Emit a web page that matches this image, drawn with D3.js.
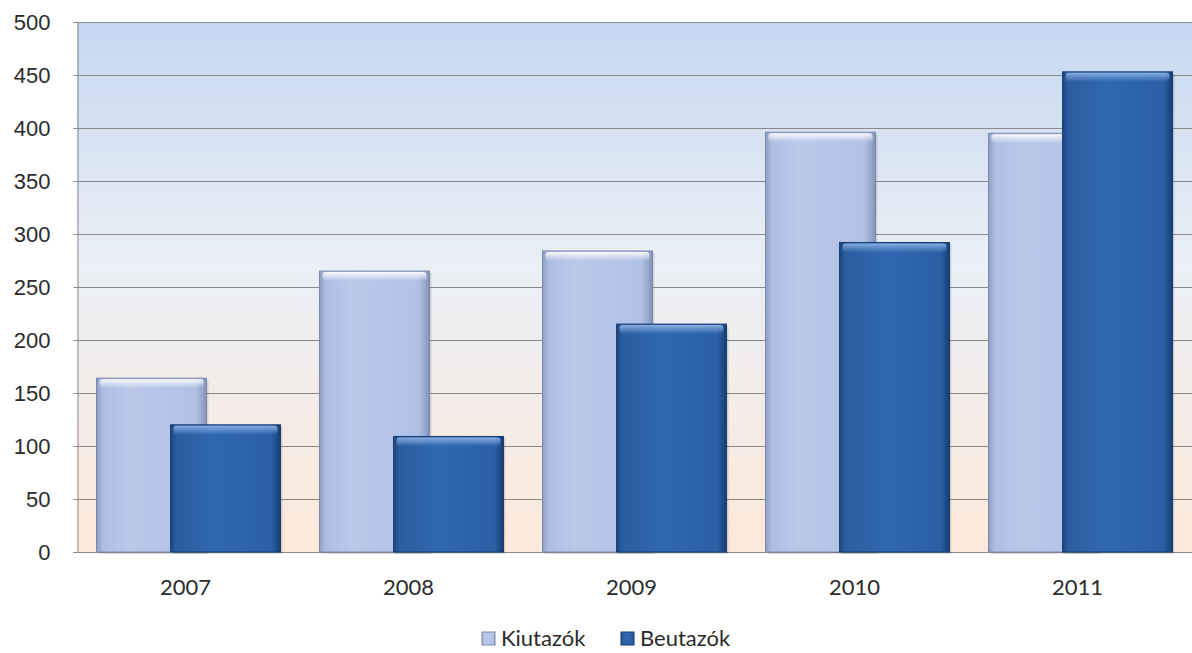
<!DOCTYPE html>
<html><head><meta charset="utf-8">
<script src="https://cdn.jsdelivr.net/npm/d3@7"></script>
<style>
html,body{margin:0;padding:0;background:#fff;}
svg{display:block;font-family:Lato,"Open Sans",sans-serif;}
</style></head>
<body>
<svg id="chart" width="1192" height="653"></svg>
<script>
const years = ["2007","2008","2009","2010","2011"];
const series = ["Kiutazók","Beutazók"];
const kiutazok = [164, 265, 284, 396, 395];
const beutazok = [120, 109, 215, 292, 453];
const yTicks = [0,50,100,150,200,250,300,350,400,450,500];

(function(){
const svg = d3.select("#chart");
const mL = 77, mR = 1192, mT = 22, mB = 552;

const x = d3.scaleBand().domain(years).range([mL, mR]).paddingInner(0).paddingOuter(0);
const y = d3.scaleLinear().domain([0,500]).range([mB, mT]);
const barW = x.bandwidth() * 0.493;
const groupW = x.bandwidth() * 0.825;
const xs = d3.scalePoint().domain(series).range([0, groupW - barW]);
const groupOff = (x.bandwidth() - groupW) / 2;

const defs = svg.append("defs");
const bg = defs.append("linearGradient").attr("id","bg").attr("x1",0).attr("y1",0).attr("x2",0).attr("y2",1);
bg.append("stop").attr("offset","0%").attr("stop-color","#c5d8f0");
bg.append("stop").attr("offset","45%").attr("stop-color","#eaeff6");
bg.append("stop").attr("offset","100%").attr("stop-color","#fde9d9");

function hgrad(id, stops){
  const g = defs.append("linearGradient").attr("id",id).attr("x1",0).attr("y1",0).attr("x2",1).attr("y2",0);
  stops.forEach(s=>g.append("stop").attr("offset",s[0]).attr("stop-color",s[1]));
}
hgrad("gK", [["0%","#8f9fc5"],["6%","#aebee3"],["30%","#bac9ea"],["90%","#b1c1e5"],["97%","#93a3c9"],["100%","#8090b5"]]);
hgrad("gB", [["0%","#1c4680"],["5%","#2a5c9f"],["40%","#3068b0"],["92%","#2a5fa5"],["97%","#1d4a88"],["100%","#163c70"]]);
const vK = defs.append("linearGradient").attr("id","vK").attr("x1",0).attr("y1",0).attr("x2",0).attr("y2",1);
vK.append("stop").attr("offset","0%").attr("stop-color","#ffffff").attr("stop-opacity",0.9);
vK.append("stop").attr("offset","100%").attr("stop-color","#ffffff").attr("stop-opacity",0);
const vB = defs.append("linearGradient").attr("id","vB").attr("x1",0).attr("y1",0).attr("x2",0).attr("y2",1);
vB.append("stop").attr("offset","0%").attr("stop-color","#8fb6e8").attr("stop-opacity",0.9);
vB.append("stop").attr("offset","100%").attr("stop-color","#8fb6e8").attr("stop-opacity",0);

svg.append("rect").attr("x",mL).attr("y",mT).attr("width",mR-mL).attr("height",mB-mT).attr("fill","url(#bg)");

svg.append("g").selectAll("line").data(yTicks).join("line")
  .attr("x1",mL).attr("x2",mR).attr("y1",d=>y(d)+0.5).attr("y2",d=>y(d)+0.5)
  .attr("stroke","#8a8a8a").attr("stroke-width",1);

const yAxis = d3.axisLeft(y).tickValues(yTicks).tickSize(4).tickPadding(24);
const ga = svg.append("g").attr("transform",`translate(${mL+0.5},0)`).call(yAxis);
ga.select(".domain").attr("stroke","#8a8a8a");
ga.selectAll(".tick line").attr("stroke","#8a8a8a");
ga.selectAll(".tick text").attr("fill","#2b2b2b").style("font-size","22px").attr("dy","0.35em").attr("x",-27);

const data = [];
years.forEach((yr,i)=>{
  data.push({yr, s:series[0], v:kiutazok[i]});
  data.push({yr, s:series[1], v:beutazok[i]});
});
const bars = svg.append("g").selectAll("g").data(data).join("g")
  .attr("transform",d=>`translate(${x(d.yr)+groupOff+xs(d.s)},0)`);
bars.append("rect").attr("x",2).attr("y",d=>y(d.v)+2).attr("width",barW).attr("height",d=>mB-y(d.v))
  .attr("fill","#000").attr("opacity",0.12);
bars.append("rect").attr("x",0).attr("y",d=>y(d.v)).attr("width",barW).attr("height",d=>mB-y(d.v))
  .attr("fill",d=>d.s===series[0]?"url(#gK)":"url(#gB)")
  .attr("stroke",d=>d.s===series[0]?"#7b89ad":"#173d73").attr("stroke-width",1);
bars.append("rect").attr("x",3).attr("y",d=>y(d.v)+1).attr("width",barW-6).attr("height",9)
  .attr("rx",3)
  .attr("fill",d=>d.s===series[0]?"url(#vK)":"url(#vB)");

svg.append("g").selectAll("text").data(years).join("text")
  .attr("x",d=>x(d)+x.bandwidth()/2 - 3).attr("y",595)
  .attr("text-anchor","middle").attr("fill","#2b2b2b").style("font-size","22px").text(d=>d);

const legend = [{s:series[0], x:482, fill:"url(#gK)", stroke:"#7b89ad"},{s:series[1], x:621, fill:"url(#gB)", stroke:"#173d73"}];
const lg = svg.append("g").selectAll("g").data(legend).join("g").attr("transform",d=>`translate(${d.x},0)`);
lg.append("rect").attr("x",0).attr("y",632).attr("width",13).attr("height",13).attr("fill",d=>d.fill).attr("stroke",d=>d.stroke);
lg.append("text").attr("x",19).attr("y",646).attr("fill","#2b2b2b").style("font-size","22px").text(d=>d.s);
})();
</script>
</body></html>
